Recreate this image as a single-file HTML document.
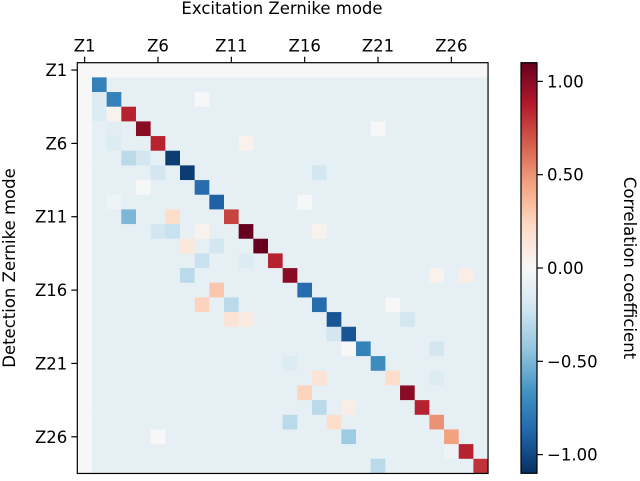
<!DOCTYPE html>
<html><head><meta charset="utf-8"><style>
body{margin:0;background:#fff;}
svg text{font-family:"DejaVu Sans","Liberation Sans",sans-serif;fill:#000;}
</style></head><body>
<svg id="chart" width="640" height="476" xmlns="http://www.w3.org/2000/svg">
<g id="cells"></g>
<g id="axes"></g>
<defs><linearGradient id="cbgrad" x1="0" y1="1" x2="0" y2="0"></linearGradient></defs>
<g id="cbar"></g>
</svg>
<script>
const modes = ["Z1","Z2","Z3","Z4","Z5","Z6","Z7","Z8","Z9","Z10","Z11","Z12","Z13","Z14","Z15","Z16","Z17","Z18","Z19","Z20","Z21","Z22","Z23","Z24","Z25","Z26","Z27","Z28"];
const tickModes = ["Z1","Z6","Z11","Z16","Z21","Z26"];
const diagValues = [0,-0.75,-0.75,0.85,1.0,0.85,-1.05,-1.05,-0.85,-0.9,0.75,1.1,1.1,0.85,1.0,-0.85,-0.85,-0.95,-0.95,-0.75,-0.7,0.2,1.0,0.85,0.5,0.45,0.85,0.8];
const baseValue = -0.1;
const firstModeValue = 0.0;
// [row mode index, column mode index, value] (1-based Zernike numbers)
const offDiag = [
 [4,3,0.05],[4,2,-0.15],[6,3,-0.15],[6,12,0.05],[7,4,-0.3],[7,5,-0.2],[8,6,-0.2],[8,17,-0.2],
 [11,4,-0.5],[11,7,0.2],[12,6,-0.2],[12,7,-0.25],[12,9,0.05],[12,17,0.05],[13,8,0.12],[13,10,-0.2],[14,9,-0.25],
 [15,8,-0.3],[15,25,0.05],[15,27,0.08],[16,10,0.3],[17,9,0.25],[17,11,-0.3],[18,11,0.15],[18,12,0.1],[18,23,-0.2],
 [19,18,-0.2],[20,25,-0.2],[22,17,0.15],[23,16,0.25],[24,17,-0.3],[24,19,0.08],[25,15,-0.3],[25,18,0.2],
 [26,19,-0.4],[28,21,-0.3],[17,22,0.0],[9,5,0.0],[5,21,0.0],[3,9,0.0],[10,16,0.0],[20,19,0.0],[26,6,0.0],
 [3,2,-0.15],[5,3,-0.13],[10,3,-0.05],[14,12,-0.15],[21,15,-0.15],[22,25,-0.15],[27,26,-0.05]
];
const cbTicks = [1.0,0.5,0.0,-0.5,-1.0];
const cbLabels = ["1.00","0.50","0.00","\u22120.50","\u22121.00"];

const vmin=-1.1, vmax=1.1;
const X0=77.3, Y0=62.7, CW=14.67, N=modes.length;
const xPos = i => X0 + i*CW;
const yPos = i => Y0 + i*CW;
const stops=["#053061","#2166ac","#4393c3","#92c5de","#d1e5f0","#f7f7f7","#fddbc7","#f4a582","#d6604d","#b2182b","#67001f"];
function hex(c){return [1,3,5].map(k=>parseInt(c.substr(k,2),16));}
function color(v){
  let t=(v-vmin)/(vmax-vmin); t=Math.max(0,Math.min(1,t));
  const p=t*10, i=Math.min(9,Math.floor(p)), f=p-i;
  const a=hex(stops[i]), b=hex(stops[i+1]);
  return "rgb("+a.map((x,k)=>Math.round(x+(b[k]-x)*f)).join(",")+")";
}
const M=[];
for(let r=0;r<N;r++){M.push([]);for(let c=0;c<N;c++){M[r].push((r===0||c===0)?firstModeValue:baseValue);}}
for(let i=0;i<N;i++) if(i>0) M[i][i]=diagValues[i];
offDiag.forEach(d=>{M[d[0]-1][d[1]-1]=d[2];});
const NS="http://www.w3.org/2000/svg";
function mk(tag,attrs,parent){const e=document.createElementNS(NS,tag);for(const k in attrs)e.setAttribute(k,attrs[k]);parent.appendChild(e);return e;}
const cells=document.getElementById('cells');
for(let r=0;r<N;r++)for(let c=0;c<N;c++){
  const el=mk('rect',{x:xPos(c),y:yPos(r),width:CW+0.3,height:CW+0.3,fill:color(M[r][c])},cells);
  
  
}
const FS=16.5;
const axes=document.getElementById('axes');
const frame=mk('rect',{x:X0,y:Y0,width:N*CW,height:N*CW,fill:"none",stroke:"#000","stroke-width":1.2},axes);


tickModes.forEach(m=>{
  const i=modes.indexOf(m);
  const cx=xPos(i)+CW/2, cy=yPos(i)+CW/2;
  mk('line',{x1:cx,x2:cx,y1:Y0,y2:Y0-6,stroke:"#000","stroke-width":1.2},axes);
  const tx=mk('text',{x:cx,y:Y0-11,"text-anchor":"middle","font-size":FS},axes);
  tx.textContent=m;
  
  
  mk('line',{x1:X0,x2:X0-6,y1:cy,y2:cy,stroke:"#000","stroke-width":1.2},axes);
  const ty=mk('text',{x:X0-10,y:cy+6,"text-anchor":"end","font-size":FS},axes);
  ty.textContent=m;
  
  
});
const xt=mk('text',{x:282,y:14,"text-anchor":"middle","font-size":FS},axes);
xt.textContent="Excitation Zernike mode";


const yt=mk('text',{x:0,y:0,"text-anchor":"middle","font-size":FS,transform:"translate(15,268) rotate(-90)"},axes);
yt.textContent="Detection Zernike mode";


const g=document.getElementById('cbgrad');
for(let k=0;k<=40;k++){const v=vmin+(vmax-vmin)*k/40;mk('stop',{offset:(k/40),"stop-color":color(v)},g);}
const cb=document.getElementById('cbar');
const CBX=521,CBW=16,CBT=62.7,CBB=473.3;
const cbY=v=>CBB-(v-vmin)/(vmax-vmin)*(CBB-CBT);
const cbr=mk('rect',{x:CBX,y:CBT,width:CBW,height:CBB-CBT,fill:"url(#cbgrad)",stroke:"#000","stroke-width":1.2},cb);


cbTicks.forEach((v,i)=>{
  const y=cbY(v);
  mk('line',{x1:CBX+CBW,x2:CBX+CBW+6,y1:y,y2:y,stroke:"#000","stroke-width":1.2},cb);
  const t=mk('text',{x:CBX+CBW+10,y:y+6,"font-size":FS},cb);
  t.textContent=cbLabels[i];
  
  
});
const cl=mk('text',{x:0,y:0,"text-anchor":"middle","font-size":FS,transform:"translate(624,268) rotate(90)"},cb);
cl.textContent="Correlation coefficient";


</script>
</body></html>
